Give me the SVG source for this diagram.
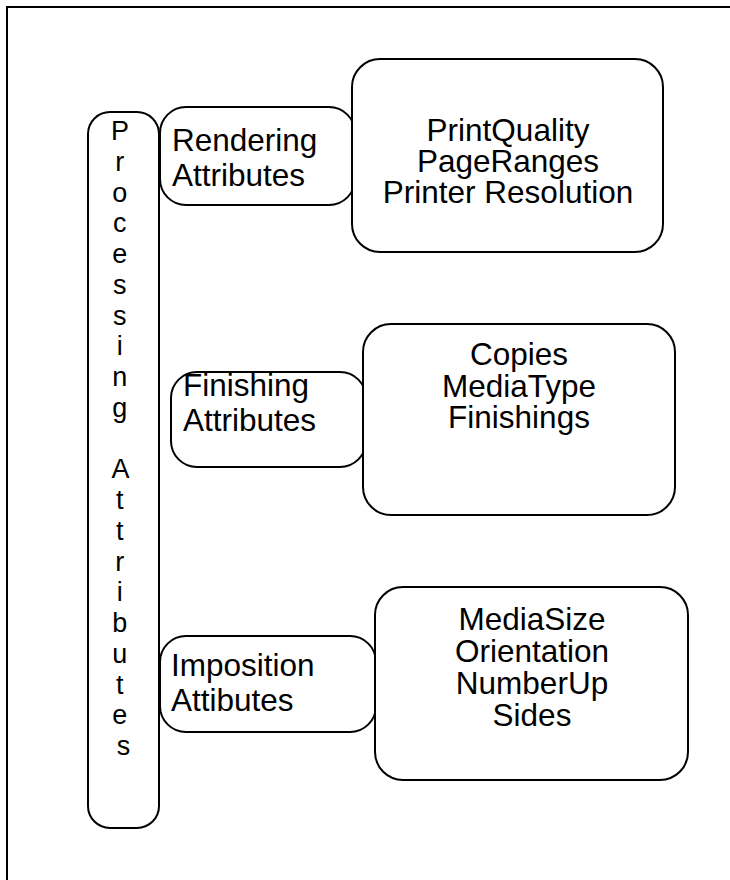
<svg xmlns="http://www.w3.org/2000/svg" width="730" height="880" viewBox="0 0 730 880">
<style>
  .box { fill: #ffffff; stroke: #000000; stroke-width: 2; }
  .t { font-family: "Liberation Sans", Arial, sans-serif; font-size: 31.5px; fill: #000000; }
  .c { text-anchor: middle; }
  .v { font-family: "Liberation Sans", Arial, sans-serif; font-size: 27px; fill: #000000; text-anchor: middle; }
</style>
<rect width="730" height="880" fill="#ffffff"/>
<rect x="7" y="7" width="760" height="920" fill="none" stroke="#000000" stroke-width="2"/>
<g id="processing-attributes">
  <rect class="box" x="88" y="112" width="71" height="716" rx="22" ry="22"/>
  <text class="v" x="123.5" y="140">
    <tspan x="123.5" dy="0">P</tspan>
    <tspan x="123.5" dy="30.75">r</tspan>
    <tspan x="123.5" dy="30.75">o</tspan>
    <tspan x="123.5" dy="30.75">c</tspan>
    <tspan x="123.5" dy="30.75">e</tspan>
    <tspan x="123.5" dy="30.75">s</tspan>
    <tspan x="123.5" dy="30.75">s</tspan>
    <tspan x="123.5" dy="30.75">i</tspan>
    <tspan x="123.5" dy="30.75">n</tspan>
    <tspan x="123.5" dy="30.75">g</tspan>
    <tspan x="123.5" dy="61.5">A</tspan>
    <tspan x="123.5" dy="30.75">t</tspan>
    <tspan x="123.5" dy="30.75">t</tspan>
    <tspan x="123.5" dy="30.75">r</tspan>
    <tspan x="123.5" dy="30.75">i</tspan>
    <tspan x="123.5" dy="30.75">b</tspan>
    <tspan x="123.5" dy="30.75">u</tspan>
    <tspan x="123.5" dy="30.75">t</tspan>
    <tspan x="123.5" dy="30.75">e</tspan>
    <tspan x="123.5" dy="30.75">s</tspan>
  </text>
</g>
<g id="rendering-attributes">
  <rect class="box" x="160" y="107" width="195" height="98" rx="26" ry="26"/>
  <text class="t" x="172" y="151">Rendering</text>
  <text class="t" x="172" y="186">Attributes</text>
</g>
<g id="rendering-list">
  <rect class="box" x="352" y="59" width="311" height="193" rx="28" ry="28"/>
  <text class="t c" x="508" y="141">PrintQuality</text>
  <text class="t c" x="508" y="172">PageRanges</text>
  <text class="t c" x="508" y="203">Printer Resolution</text>
</g>
<g id="finishing-attributes">
  <rect class="box" x="171" y="372" width="195" height="95" rx="26" ry="26"/>
  <text class="t" x="183" y="396">Finishing</text>
  <text class="t" x="183" y="431">Attributes</text>
</g>
<g id="finishing-list">
  <rect class="box" x="363" y="324" width="312" height="191" rx="28" ry="28"/>
  <text class="t c" x="519" y="365">Copies</text>
  <text class="t c" x="519" y="397">MediaType</text>
  <text class="t c" x="519" y="428">Finishings</text>
</g>
<g id="imposition-attributes">
  <rect class="box" x="160" y="636" width="216" height="96" rx="26" ry="26"/>
  <text class="t" x="171" y="676">Imposition</text>
  <text class="t" x="171" y="711">Attibutes</text>
</g>
<g id="imposition-list">
  <rect class="box" x="375" y="587" width="313" height="193" rx="28" ry="28"/>
  <text class="t c" x="532" y="630">MediaSize</text>
  <text class="t c" x="532" y="662">Orientation</text>
  <text class="t c" x="532" y="694">NumberUp</text>
  <text class="t c" x="532" y="726">Sides</text>
</g>
<g id="connectors"/>
</svg>
